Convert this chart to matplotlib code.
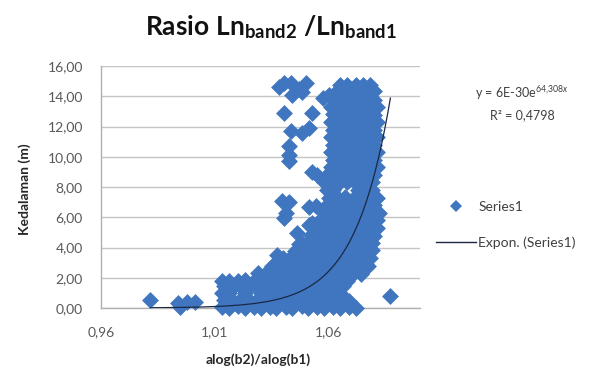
import matplotlib
matplotlib.use('Agg')
import matplotlib.pyplot as plt
import numpy as np
from matplotlib.lines import Line2D

plt.rcParams['font.family'] = ['Lato', 'DejaVu Sans']
plt.rcParams['mathtext.fontset'] = 'custom'
plt.rcParams['mathtext.rm'] = 'Lato'
plt.rcParams['mathtext.bf'] = 'Lato:bold'
plt.rcParams['mathtext.it'] = 'Lato:italic'

# ---------------- data ----------------
ratio = [
    # isolated low points
    0.9817, 0.9939, 0.9948, 0.9978, 1.0013, 1.0870,
    # y ~ 0
    1.013, 1.016, 1.020, 1.023, 1.027, 1.030, 1.034, 1.037, 1.041, 1.044, 1.048, 1.051, 1.055, 1.058, 1.062, 1.065, 1.069, 1.072,
    # y ~ 0.5
    1.014, 1.018, 1.021, 1.025, 1.028, 1.032, 1.035, 1.039, 1.042, 1.046, 1.049, 1.053, 1.056, 1.060, 1.063, 1.067, 1.069,
    # y ~ 1.0
    1.013, 1.016, 1.023, 1.030, 1.034, 1.037, 1.041, 1.044, 1.048, 1.051, 1.055, 1.058, 1.062, 1.065,
    # y ~ 1.45
    1.014, 1.018, 1.021, 1.025, 1.028, 1.032, 1.035, 1.039, 1.042, 1.046, 1.049, 1.053, 1.056, 1.060, 1.063, 1.066,
    # y ~ 1.8
    1.013, 1.016, 1.020, 1.023, 1.027, 1.030, 1.034, 1.037, 1.041, 1.044, 1.048, 1.051, 1.055, 1.058, 1.062, 1.065, 1.068,
    # y ~ 2.3
    1.029, 1.032, 1.036, 1.039, 1.043, 1.046, 1.050, 1.053, 1.057, 1.060, 1.064, 1.067, 1.071, 1.074,
    # y ~ 2.8
    1.035, 1.038, 1.042, 1.045, 1.049, 1.052, 1.056, 1.059, 1.063, 1.066, 1.070, 1.073, 1.077,
    # y ~ 3.3
    1.040, 1.043, 1.047, 1.050, 1.054, 1.057, 1.061, 1.064, 1.068, 1.071, 1.075, 1.078,
    # y ~ 3.8
    1.045, 1.048, 1.052, 1.055, 1.059, 1.062, 1.066, 1.069, 1.073, 1.076, 1.079,
    # y ~ 4.3
    1.048, 1.051, 1.055, 1.058, 1.062, 1.065, 1.069, 1.072, 1.076, 1.079,
    # y ~ 4.8
    1.052, 1.055, 1.059, 1.062, 1.066, 1.069, 1.073, 1.076, 1.080,
    # y ~ 5.3
    1.054, 1.058, 1.061, 1.065, 1.068, 1.072, 1.075, 1.079, 1.081,
    # y ~ 5.8
    1.056, 1.060, 1.063, 1.067, 1.070, 1.074, 1.077, 1.081,
    # y ~ 6.3
    1.058, 1.061, 1.065, 1.068, 1.072, 1.075, 1.079, 1.082,
    # y ~ 6.8
    1.059, 1.063, 1.066, 1.070, 1.073, 1.077, 1.080,
    # y ~ 7.3
    1.060, 1.064, 1.067, 1.071, 1.074, 1.078, 1.081,
    # y ~ 7.8
    1.059, 1.062, 1.073, 1.076, 1.079,
    # y ~ 8.3
    1.058, 1.061, 1.065, 1.068, 1.072, 1.075, 1.079,
    # y ~ 8.8
    1.059, 1.063, 1.066, 1.070, 1.073, 1.077, 1.080,
    # y ~ 9.3
    1.061, 1.064, 1.068, 1.071, 1.075, 1.078, 1.081,
    # y ~ 9.8
    1.062, 1.066, 1.069, 1.073, 1.076, 1.080,
    # y ~ 10.3
    1.061, 1.064, 1.068, 1.071, 1.075, 1.078, 1.081,
    # y ~ 10.8
    1.062, 1.066, 1.069, 1.073, 1.076, 1.080,
    # y ~ 11.3
    1.061, 1.064, 1.068, 1.071, 1.075, 1.078, 1.081,
    # y ~ 11.8
    1.062, 1.066, 1.069, 1.073, 1.076, 1.080,
    # y ~ 12.3
    1.061, 1.064, 1.068, 1.071, 1.075, 1.078, 1.081,
    # y ~ 12.8
    1.062, 1.066, 1.069, 1.073, 1.076, 1.080,
    # y ~ 13.3
    1.061, 1.064, 1.068, 1.071, 1.075, 1.078, 1.081,
    # y ~ 13.8
    1.062, 1.066, 1.069, 1.073, 1.076, 1.080,
    # y ~ 14.3
    1.063, 1.066, 1.070, 1.073, 1.077, 1.080,
    # y ~ 14.8
    1.065, 1.068, 1.072, 1.075, 1.078,
    # scattered points left of the main band
    1.0383, 1.0404, 1.0435, 1.0470, 1.0500, 1.0439, 1.0483, 1.0404, 1.0526, 1.0575,
    1.0600, 1.0435, 1.0483, 1.0513, 1.0426, 1.0426, 1.0426, 1.0526, 1.0548, 1.0426,
    1.0404, 1.0413, 1.0543, 1.0513, 1.0461, 1.0470, 1.0374, 1.0396, 1.0526, 1.0513,
]

depth = [
    0.55, 0.33, 0.07, 0.40, 0.40, 0.79,
    0.05, 0.00, 0.10, 0.00, 0.05, 0.02, 0.08, 0.00, 0.05, 0.00, 0.10, 0.02, 0.05, 0.00, 0.08, 0.00, 0.05, 0.02,
    0.52, 0.48, 0.55, 0.50, 0.45, 0.52, 0.50, 0.55, 0.48, 0.50, 0.52, 0.46, 0.50, 0.55, 0.48, 0.50, 0.45,
    1.00, 0.98, 1.02, 1.00, 0.96, 1.02, 1.00, 0.98, 1.02, 1.00, 0.97, 1.02, 1.00, 0.98,
    1.45, 1.42, 1.48, 1.45, 1.40, 1.46, 1.45, 1.48, 1.42, 1.45, 1.47, 1.43, 1.45, 1.48, 1.42, 1.45,
    1.78, 1.80, 1.76, 1.82, 1.80, 1.78, 1.82, 1.80, 1.78, 1.80, 1.82, 1.78, 1.80, 1.82, 1.78, 1.80, 1.80,
    2.30, 2.28, 2.32, 2.30, 2.28, 2.32, 2.30, 2.28, 2.32, 2.30, 2.28, 2.32, 2.30, 2.28,
    2.80, 2.82, 2.78, 2.80, 2.82, 2.78, 2.80, 2.82, 2.78, 2.80, 2.82, 2.78, 2.80,
    3.30, 3.28, 3.32, 3.30, 3.28, 3.32, 3.30, 3.28, 3.32, 3.30, 3.28, 3.32,
    3.80, 3.82, 3.78, 3.80, 3.82, 3.78, 3.80, 3.82, 3.78, 3.80, 3.82,
    4.30, 4.28, 4.32, 4.30, 4.28, 4.32, 4.30, 4.28, 4.32, 4.30,
    4.80, 4.82, 4.78, 4.80, 4.82, 4.78, 4.80, 4.82, 4.78,
    5.30, 5.28, 5.32, 5.30, 5.28, 5.32, 5.30, 5.28, 5.32,
    5.80, 5.82, 5.78, 5.80, 5.82, 5.78, 5.80, 5.82,
    6.30, 6.28, 6.32, 6.30, 6.28, 6.32, 6.30, 6.28,
    6.80, 6.82, 6.78, 6.80, 6.82, 6.78, 6.80,
    7.30, 7.28, 7.32, 7.30, 7.28, 7.32, 7.30,
    7.80, 7.82, 7.78, 7.80, 7.82,
    8.30, 8.28, 8.32, 8.30, 8.28, 8.32, 8.30,
    8.80, 8.82, 8.78, 8.80, 8.82, 8.78, 8.80,
    9.30, 9.28, 9.32, 9.30, 9.28, 9.32, 9.30,
    9.80, 9.82, 9.78, 9.80, 9.82, 9.78,
    10.30, 10.28, 10.32, 10.30, 10.28, 10.32, 10.30,
    10.80, 10.82, 10.78, 10.80, 10.82, 10.78,
    11.30, 11.28, 11.32, 11.30, 11.28, 11.32, 11.30,
    11.80, 11.82, 11.78, 11.80, 11.82, 11.78,
    12.30, 12.28, 12.32, 12.30, 12.28, 12.32, 12.30,
    12.80, 12.82, 12.78, 12.80, 12.82, 12.78,
    13.30, 13.28, 13.32, 13.30, 13.28, 13.32, 13.30,
    13.80, 13.82, 13.78, 13.80, 13.82, 13.78,
    14.30, 14.28, 14.32, 14.30, 14.28, 14.32,
    14.72, 14.75, 14.72, 14.75, 14.72,
    14.60, 14.85, 14.90, 14.50, 14.90, 14.10, 14.30, 12.90, 12.90, 13.90,
    14.10, 11.70, 11.60, 11.90, 10.70, 10.10, 9.70, 9.00, 8.80, 7.00,
    5.95, 6.30, 6.75, 5.50, 4.95, 4.20, 3.50, 7.10, 5.60, 6.70,
]

trend_a = 6e-30          # y = 6E-30 e^(64,3 x)
trend_b = 64.32
r_squared = 0.4798

y_ticks = [0, 2, 4, 6, 8, 10, 12, 14, 16]
x_ticks = [0.96, 1.01, 1.06]

# ---------------- figure ----------------
W, H = 613, 374
fig = plt.figure(figsize=(W / 100, H / 100), dpi=100)
fig.patch.set_facecolor('white')

ax_l, ax_r, ax_t, ax_b = 101, 420, 66, 308
ax = fig.add_axes([ax_l / W, 1 - ax_b / H, (ax_r - ax_l) / W, (ax_b - ax_t) / H])

blue = '#3f76bf'
ax.scatter(ratio, depth, marker='D', s=8.6 ** 2, color=blue, linewidths=0,
           clip_on=False, zorder=3)

xs = np.linspace(min(ratio), max(ratio), 300)
ax.plot(xs, trend_a * np.exp(trend_b * xs), color='#1b2845', lw=0.9, zorder=4)

ax.set_xlim(0.96, 1.10)
ax.set_ylim(0, 16)
ax.set_yticks(y_ticks)
ax.set_yticklabels([f"{v:.2f}".replace('.', ',') for v in y_ticks])
ax.set_xticks(x_ticks)
ax.set_xticklabels([f"{v:.2f}".replace('.', ',') for v in x_ticks])
ax.tick_params(axis='both', length=0, labelsize=10, labelcolor='#595959')
ax.tick_params(axis='y', pad=13)
ax.tick_params(axis='x', pad=13)
ax.grid(axis='y', color='#c4c4c4', lw=1)
ax.set_axisbelow(True)
for s in ['top', 'right']:
    ax.spines[s].set_visible(False)
for s in ['left', 'bottom']:
    ax.spines[s].set_color('#b0b0b0')
    ax.spines[s].set_linewidth(1)

# title
fig.text(271 / W, 1 - 27 / H,
         r"$\mathbf{Rasio\ Ln}_{\mathbf{band2}}\mathbf{\ /Ln}_{\mathbf{band1}}$",
         ha='center', va='center', fontsize=19, color='#111111')

# axis labels
fig.text(258 / W, 1 - 360 / H, "alog(b2)/alog(b1)", ha='center', va='center',
         fontsize=10, fontweight='bold', color='#262626')
fig.text(25 / W, 1 - 189 / H, "Kedalaman (m)", ha='center', va='center',
         rotation=90, fontsize=10, fontweight='bold', color='#262626')

# trendline equation
fig.text(522 / W, 1 - 93 / H, r"y = 6E-30e$^{64{,}308x}$", ha='center', va='center',
         fontsize=9, color='#404040')
fig.text(522 / W, 1 - 115 / H, f"R² = {r_squared:.4f}".replace('.', ','),
         ha='center', va='center', fontsize=9, color='#404040')

# legend
handles = [Line2D([], [], marker='D', ls='none', color=blue, ms=6.0, mew=0),
           Line2D([], [], color='#1b2845', lw=1)]
fig.legend(handles, ['Series1', 'Expon. (Series1)'], loc='center left',
           bbox_to_anchor=(436 / W, 1 - 225 / H), frameon=False,
           handlelength=2.9, labelspacing=1.7, fontsize=10, handletextpad=0.15,
           borderaxespad=0, borderpad=0, labelcolor='#404040')

fig.savefig('out.png', dpi=100, facecolor='white')
